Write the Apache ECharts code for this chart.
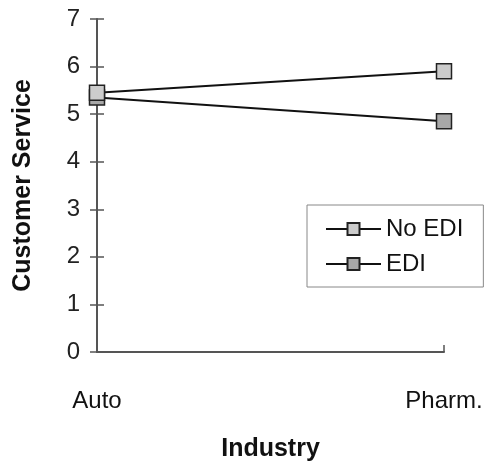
<!DOCTYPE html>
<html>
<head>
<meta charset="utf-8">
<script src="https://cdn.jsdelivr.net/npm/echarts@6/dist/echarts.min.js"></script>
<style>
  html, body { margin: 0; padding: 0; background: #fff; }
  #chart { width: 487px; height: 467px; }
</style>
</head>
<body>
<div id="chart"></div>
<script>
// chart data
const industries = ["Auto", "Pharm."];
const noEdi = [5.45, 5.9];
const edi = [5.35, 4.85];
const yTicks = [0, 1, 2, 3, 4, 5, 6, 7];

const myChart = echarts.init(document.getElementById("chart"));

const axisColor = "#555";
const font = "Liberation Sans, Arial, sans-serif";
const titleStyle = { fontFamily: font, fontWeight: "bold", fontSize: 25, color: "#111" };

const option = {
  animation: false,
  grid: { left: 97, right: 43, top: 19, bottom: 114 },
  legend: {
    left: 307,
    top: 205,
    orient: "vertical",
    itemWidth: 55,
    itemHeight: 15,
    itemGap: 11,
    padding: [12, 20, 11, 18],
    borderColor: "#888",
    borderWidth: 1,
    textStyle: { fontFamily: font, fontSize: 24, color: "#111" },
    data: ["No EDI", "EDI"]
  },
  xAxis: {
    type: "category",
    boundaryGap: false,
    data: industries,
    name: "Industry",
    nameLocation: "middle",
    nameGap: 85,
    nameTextStyle: titleStyle,
    axisLine: { lineStyle: { color: axisColor, width: 2 } },
    axisTick: { alignWithLabel: true, length: 7, inside: true, lineStyle: { color: axisColor, width: 1.5 } },
    axisLabel: { fontFamily: font, fontSize: 24, color: "#111", margin: 37 }
  },
  yAxis: [
    {
      type: "value",
      min: yTicks[0],
      max: yTicks[yTicks.length - 1],
      interval: 1,
      name: "Customer Service",
      nameLocation: "middle",
      nameGap: 61,
      nameTextStyle: titleStyle,
      axisLine: { show: true, lineStyle: { color: axisColor, width: 2 } },
      axisTick: { show: true, length: 7, lineStyle: { color: axisColor, width: 1.5 } },
      axisLabel: { fontFamily: font, fontSize: 24, color: "#222", margin: 17 },
      splitLine: { show: false }
    },
    {
      // second copy of the axis so ticks cross the line
      type: "value",
      position: "left",
      min: yTicks[0],
      max: yTicks[yTicks.length - 1],
      interval: 1,
      axisLine: { show: false },
      axisTick: { show: true, inside: true, length: 7, lineStyle: { color: axisColor, width: 1.5 } },
      axisLabel: { show: false },
      splitLine: { show: false }
    }
  ],
  // EDI first so the No EDI square sits on top at Auto
  series: [
    {
      name: "EDI",
      type: "line",
      data: edi,
      symbol: "rect",
      symbolSize: 15,
      lineStyle: { color: "#111", width: 2 },
      itemStyle: { color: "#a8a8a8", borderColor: "#222", borderWidth: 1.5 }
    },
    {
      name: "No EDI",
      type: "line",
      data: noEdi,
      symbol: "rect",
      symbolSize: 15,
      lineStyle: { color: "#111", width: 2 },
      itemStyle: { color: "#cccccc", borderColor: "#222", borderWidth: 1.5 }
    }
  ]
};

myChart.setOption(option);
</script>
</body>
</html>
